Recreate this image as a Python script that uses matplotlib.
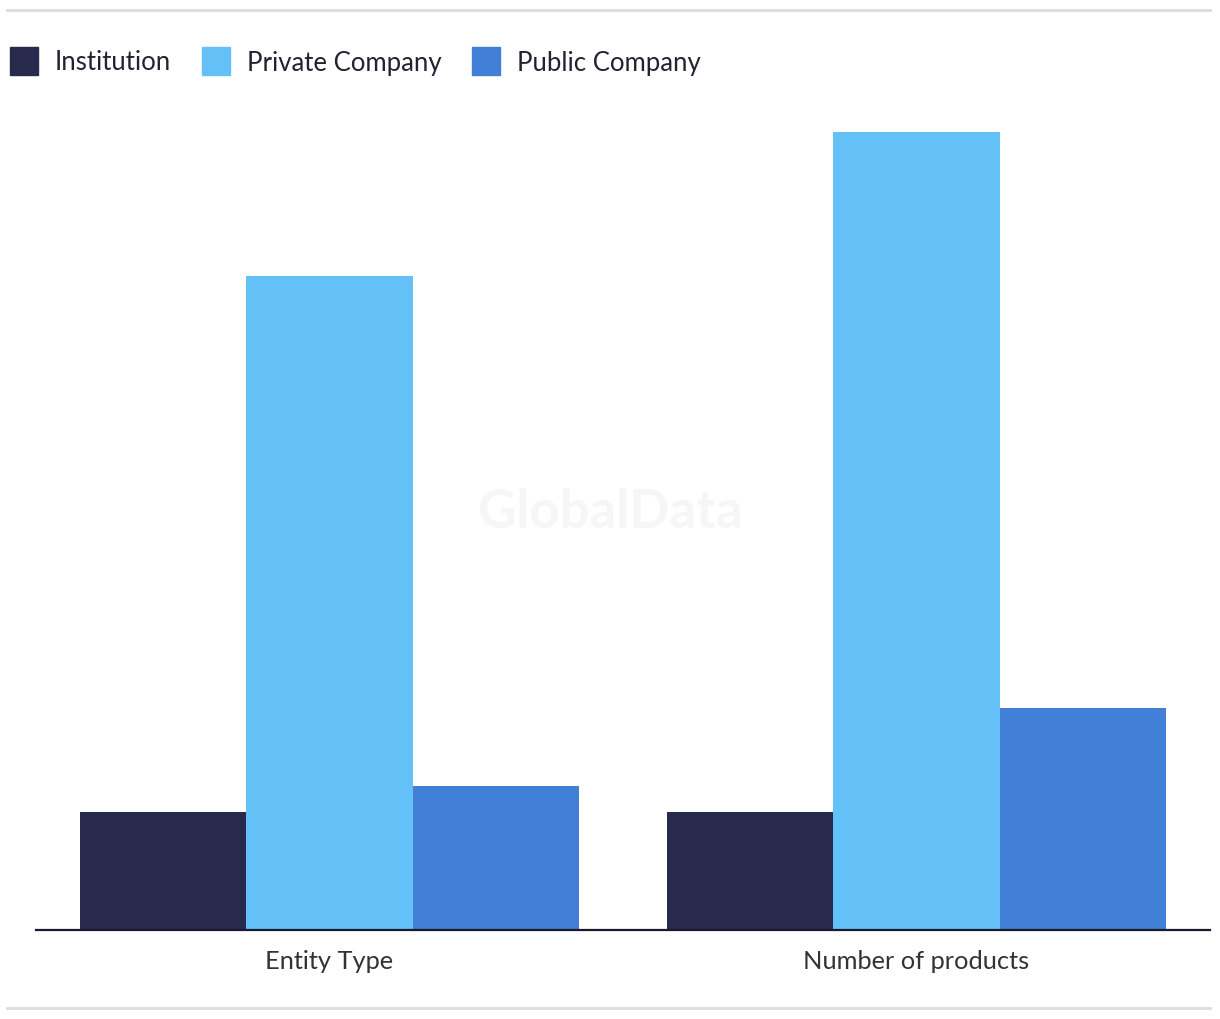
import matplotlib
matplotlib.use("Agg")
import matplotlib.pyplot as plt
from matplotlib.patches import Rectangle
from matplotlib.lines import Line2D
import numpy as np

categories = ["Entity Type", "Number of products"]
series = ["Institution", "Private Company", "Public Company"]
institution = [9, 9]
private_company = [50, 61]
public_company = [11, 17]
colors = ["#272a4c", "#63c1f8", "#427fd6"]

plt.rcParams["font.family"] = ["Lato", "DejaVu Sans"]

W, H = 1220, 1020
fig = plt.figure(figsize=(W / 100, H / 100), dpi=100)
ax = fig.add_axes([36 / W, 89 / H, (1210 - 36) / W, 831 / H])

x = np.arange(len(categories))
width = 0.85 / 3
values = [institution, private_company, public_company]
for i, (name, vals) in enumerate(zip(series, values)):
    ax.bar(x + (i - 1) * width, vals, width, color=colors[i], label=name, zorder=2)

ax.set_xlim(-0.5, 1.5)
ax.set_ylim(0, 831 / 13.08)
for s in ["top", "right", "left"]:
    ax.spines[s].set_visible(False)
ax.spines["bottom"].set_color("#1a1a2e")
ax.spines["bottom"].set_linewidth(1.6)
ax.spines["bottom"].set_zorder(3)
ax.set_yticks([])
ax.set_xticks(x)
ax.set_xticklabels(categories, fontsize=18.3, color="#333333")
ax.tick_params(axis="x", length=0, pad=14)

# watermark
ax.text(0.5, 1 - 512 / H, "GlobalData", transform=fig.transFigure, ha="center", va="center",
        fontsize=38, fontweight="bold", color="#f6f6f6", zorder=1)

# legend drawn by hand to match spacing
leg_x = [10, 202, 472]
for i, name in enumerate(series):
    fig.patches.append(Rectangle((leg_x[i] / W, 1 - 76 / H), 28 / W, 28 / H,
                                 transform=fig.transFigure, color=colors[i]))
    fig.text((leg_x[i] + 45) / W, 1 - 63 / H, name, ha="left", va="center",
             fontsize=18.5, color="#222233")

# gray rules top and bottom
fig.lines.append(Line2D([7 / W, 1210 / W], [1 - 11 / H, 1 - 11 / H],
                        transform=fig.transFigure, color="#dddddd", lw=2))
fig.lines.append(Line2D([7 / W, 1210 / W], [1 - 1009 / H, 1 - 1009 / H],
                        transform=fig.transFigure, color="#dddddd", lw=2))

fig.savefig("out.png", dpi=100)
